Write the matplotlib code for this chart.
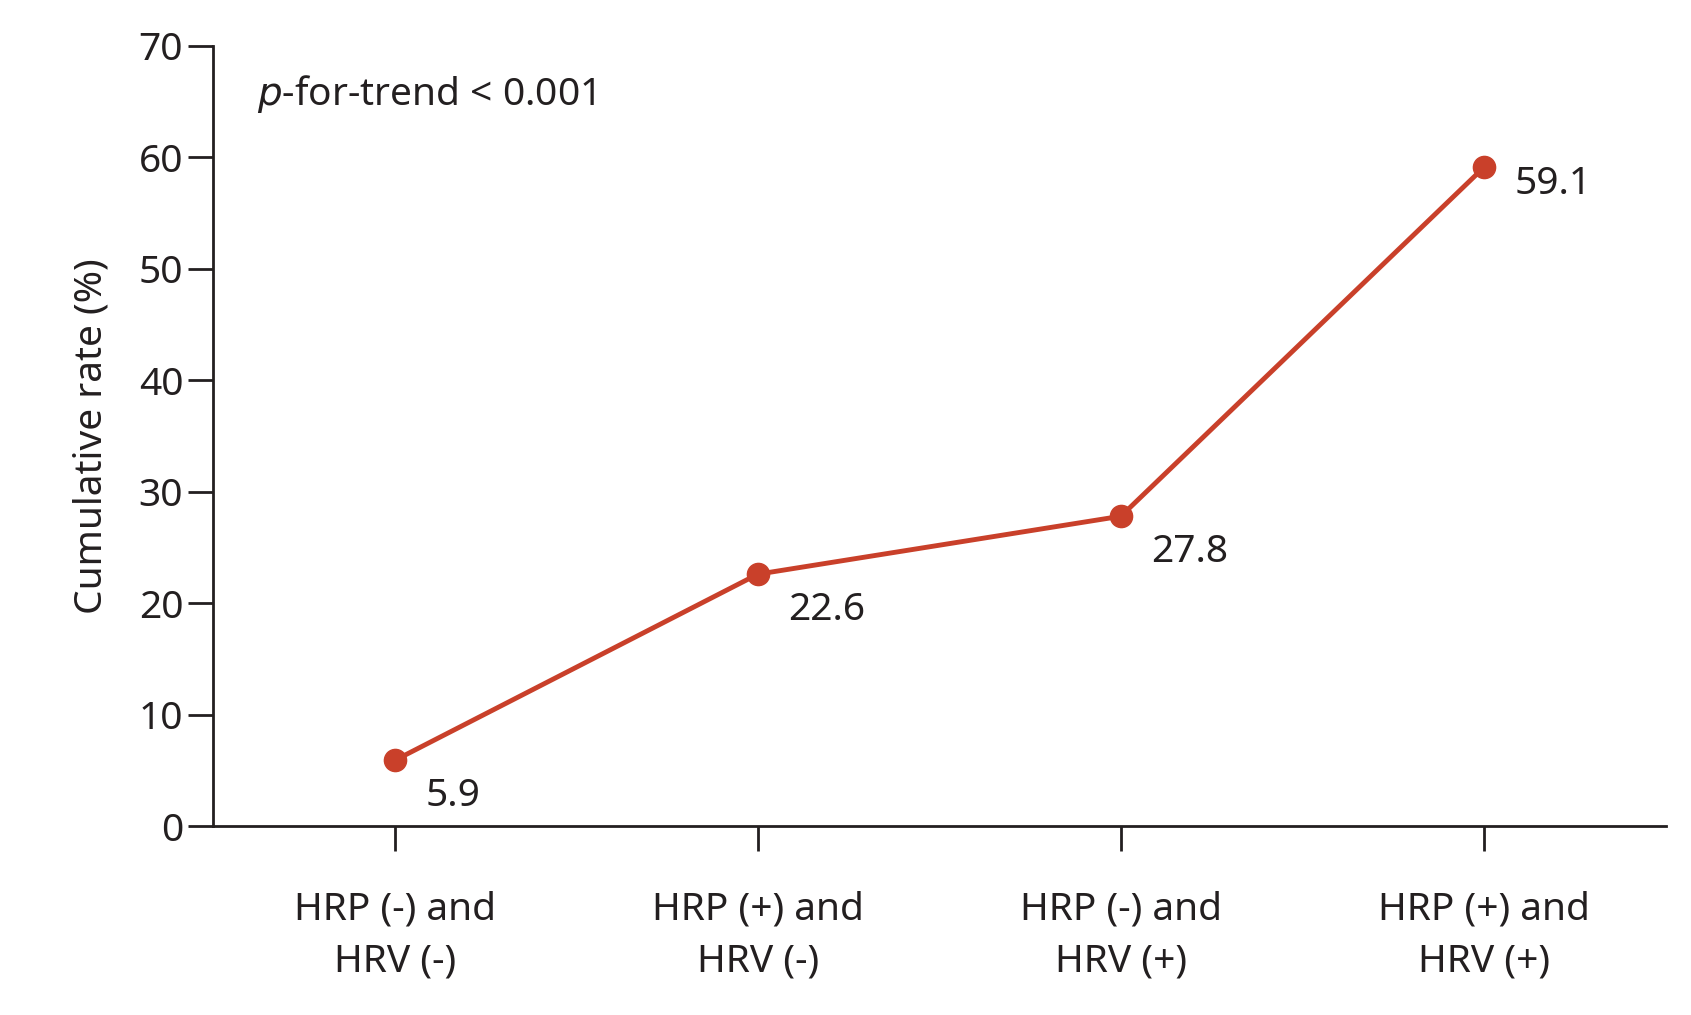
import matplotlib
matplotlib.use("Agg")
import matplotlib.pyplot as plt

categories = ["HRP (-) and\nHRV (-)", "HRP (+) and\nHRV (-)", "HRP (-) and\nHRV (+)", "HRP (+) and\nHRV (+)"]
values = [5.9, 22.6, 27.8, 59.1]
yticks = [0, 10, 20, 30, 40, 50, 60, 70]

plt.rcParams['font.family'] = ['Noto Sans', 'DejaVu Sans']
fig = plt.figure(figsize=(16.91, 10.15), dpi=100)
ax = fig.add_axes([0.126, 0.186, 0.859, 0.769])
c = '#C9402A'
x = list(range(len(values)))
ax.plot(x, values, color=c, lw=3.5, marker='o', ms=16, zorder=3)
for xi, v in zip(x, values):
    ax.annotate(f"{v}", (xi, v), xytext=(22, -12), textcoords='offset points',
                fontsize=28, va='top' if xi < 3 else 'center', ha='left', color='#231F20')
ax.set_xlim(-0.5, 3.5)
ax.set_ylim(0, 70)
ax.set_yticks(yticks)
ax.set_xticks(x)
ax.set_xticklabels(categories, fontsize=28, color='#231F20', linespacing=1.5)
ax.tick_params(axis='y', labelsize=28, colors='#231F20', length=18, width=2)
ax.tick_params(axis='x', length=18, width=2, pad=28, colors='#231F20')
for s in ['top', 'right']:
    ax.spines[s].set_visible(False)
for s in ['left', 'bottom']:
    ax.spines[s].set_linewidth(2)
    ax.spines[s].set_color('#231F20')
ax.set_ylabel("Cumulative rate (%)", fontsize=28, color='#231F20', labelpad=20)
ax.text(0.03, 0.965, r"$\it{p}$-for-trend < 0.001", transform=ax.transAxes, fontsize=28,
        va='top', ha='left', color='#231F20')
fig.savefig("out.png", dpi=100)
